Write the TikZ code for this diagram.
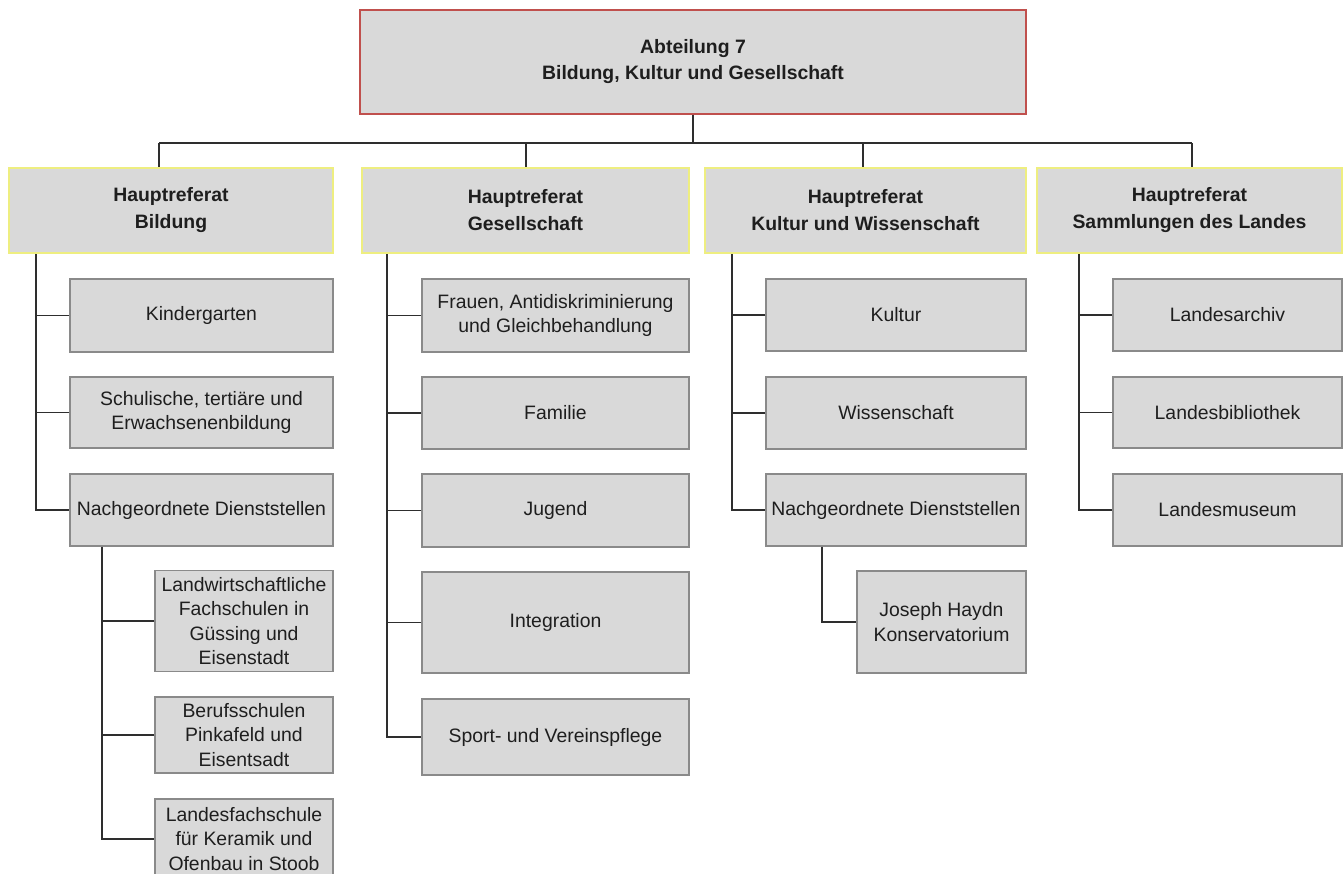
\documentclass[tikz,border=0pt]{standalone}
\usepackage{fontspec}
\setmainfont{Liberation Sans}
\definecolor{boxfill}{HTML}{D9D9D9}
\definecolor{boxline}{HTML}{8A8A8A}
\definecolor{topred}{HTML}{C0504D}
\definecolor{headyel}{HTML}{EEEE80}
\definecolor{lineclr}{HTML}{2E2E2E}
\definecolor{txt}{HTML}{1E1E1E}
\begin{document}
\begin{tikzpicture}[x=1pt,y=-1pt,
  base/.style={rectangle, inner sep=0pt, align=center, text=txt},
  topbox/.style={base, draw=topred, fill=boxfill, line width=1.3pt, font=\bfseries\fontsize{19.4}{26}\selectfont},
  headbox/.style={base, draw=headyel, fill=boxfill, line width=2pt, font=\bfseries\fontsize{19.4}{27}\selectfont},
  unitbox/.style={base, draw=boxline, fill=boxfill, line width=1.2pt, font=\fontsize{19.4}{24.5}\selectfont},
  conn/.style={draw=lineclr, line width=1.5pt}]
\useasboundingbox[fill=white] (0,0) rectangle (1344,873);

% top
\node[topbox, minimum width=666pt, minimum height=104pt] (top) at (693,62) {Abteilung 7\\Bildung, Kultur und Gesellschaft};

% headers
\node[headbox, minimum width=324pt, minimum height=85pt] (h1) at (171,210.5) {Hauptreferat\\Bildung};
\node[headbox, minimum width=327pt, minimum height=85pt] (h2) at (525.5,210.5) {Hauptreferat\\Gesellschaft};
\node[headbox, minimum width=321pt, minimum height=85pt] (h3) at (865.5,210.5) {Hauptreferat\\Kultur und Wissenschaft};
\node[headbox, minimum width=305pt, minimum height=85pt] (h4) at (1189.5,210.5) {Hauptreferat\\Sammlungen des Landes};

% column 1
\node[unitbox, minimum width=263pt, minimum height=73pt] (b11) at (201.5,315.5) {Kindergarten};
\node[unitbox, minimum width=263pt, minimum height=71pt] (b12) at (201.5,412.5) {Schulische, terti\"are und\\Erwachsenenbildung};
\node[unitbox, minimum width=263pt, minimum height=72pt] (b13) at (201.5,510) {Nachgeordnete Dienststellen};
\node[unitbox, minimum width=178pt, minimum height=101pt] (b14) at (244,621) {Landwirtschaftliche\\Fachschulen in\\G\"ussing und\\Eisenstadt};
\node[unitbox, minimum width=178pt, minimum height=76pt] (b15) at (244,735) {Berufsschulen\\Pinkafeld und\\Eisentsadt};
\node[unitbox, minimum width=178pt, minimum height=80pt] (b16) at (244,839) {Landesfachschule\\f\"ur Keramik und\\Ofenbau in Stoob};

% column 2
\node[unitbox, minimum width=267pt, minimum height=73pt] (b21) at (555.5,315.5) {Frauen, Antidiskriminierung\\und Gleichbehandlung};
\node[unitbox, minimum width=267pt, minimum height=72pt] (b22) at (555.5,413) {Familie};
\node[unitbox, minimum width=267pt, minimum height=73pt] (b23) at (555.5,510.5) {Jugend};
\node[unitbox, minimum width=267pt, minimum height=101pt] (b24) at (555.5,622.5) {Integration};
\node[unitbox, minimum width=267pt, minimum height=76pt] (b25) at (555.5,737) {Sport- und Vereinspflege};

% column 3
\node[unitbox, minimum width=260pt, minimum height=72pt] (b31) at (896,315) {Kultur};
\node[unitbox, minimum width=260pt, minimum height=72pt] (b32) at (896,413) {Wissenschaft};
\node[unitbox, minimum width=260pt, minimum height=72pt] (b33) at (896,510) {Nachgeordnete Dienststellen};
\node[unitbox, minimum width=169pt, minimum height=102pt] (b34) at (941.5,622) {Joseph Haydn\\Konservatorium};

% column 4
\node[unitbox, minimum width=229pt, minimum height=72pt] (b41) at (1227.5,315) {Landesarchiv};
\node[unitbox, minimum width=229pt, minimum height=71pt] (b42) at (1227.5,412.5) {Landesbibliothek};
\node[unitbox, minimum width=229pt, minimum height=72pt] (b43) at (1227.5,510) {Landesmuseum};

% bus coordinates
\coordinate (bus) at (693,143);
\coordinate (d1) at (159,143);
\coordinate (d2) at (526,143);
\coordinate (d3) at (863,143);
\coordinate (d4) at (1192,143);
\coordinate (s1) at (36,0);
\coordinate (s1b) at (102,0);
\coordinate (s2) at (387,0);
\coordinate (s3) at (732,0);
\coordinate (s3b) at (822,0);
\coordinate (s4) at (1079,0);

\draw[conn] (top.south) -- (bus);
\draw[conn] (d1) -- (d4);
\draw[conn] (d1) -- (d1 |- h1.north);
\draw[conn] (d2) -- (d2 |- h2.north);
\draw[conn] (d3) -- (d3 |- h3.north);
\draw[conn] (d4) -- (d4 |- h4.north);

% column 1 connectors
\draw[conn] (h1.south -| s1) |- (b13.west);
\draw[conn] (b11.west) -- (b11.west -| s1);
\draw[conn] (b12.west) -- (b12.west -| s1);
\draw[conn] (b13.south -| s1b) |- (b16.west);
\draw[conn] (b14.west) -- (b14.west -| s1b);
\draw[conn] (b15.west) -- (b15.west -| s1b);

% column 2 connectors
\draw[conn] (h2.south -| s2) |- (b25.west);
\draw[conn] (b21.west) -- (b21.west -| s2);
\draw[conn] (b22.west) -- (b22.west -| s2);
\draw[conn] (b23.west) -- (b23.west -| s2);
\draw[conn] (b24.west) -- (b24.west -| s2);

% column 3 connectors
\draw[conn] (h3.south -| s3) |- (b33.west);
\draw[conn] (b31.west) -- (b31.west -| s3);
\draw[conn] (b32.west) -- (b32.west -| s3);
\draw[conn] (b33.south -| s3b) |- (b34.west);

% column 4 connectors
\draw[conn] (h4.south -| s4) |- (b43.west);
\draw[conn] (b41.west) -- (b41.west -| s4);
\draw[conn] (b42.west) -- (b42.west -| s4);
\end{tikzpicture}
\end{document}
